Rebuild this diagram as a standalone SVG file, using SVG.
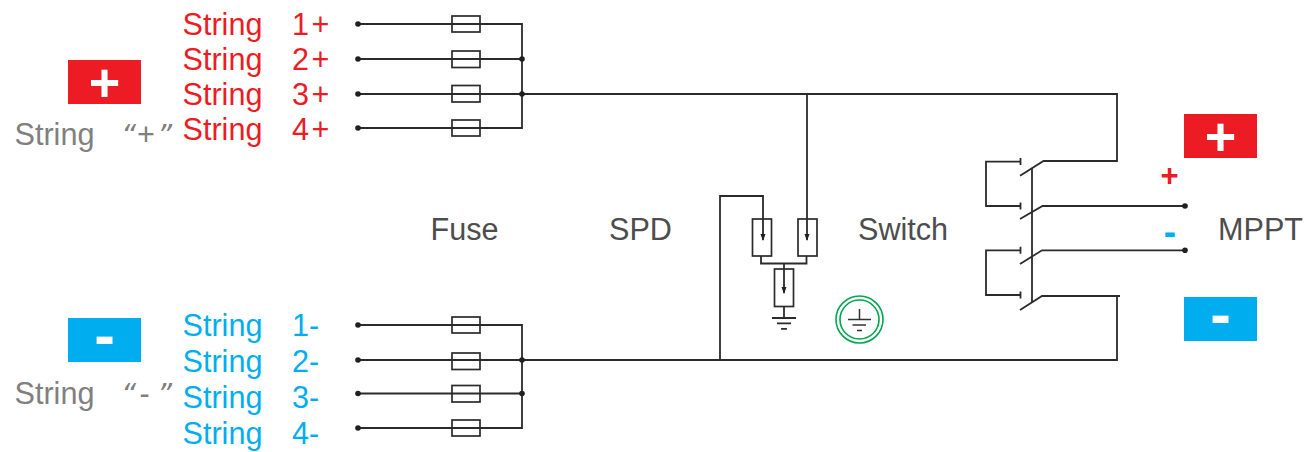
<svg xmlns="http://www.w3.org/2000/svg" width="1311" height="452" viewBox="0 0 1311 452">
<style>
text{font-family:"Liberation Sans",Arial,sans-serif;font-size:30.6px}
.r{fill:#ed1c24}.b{fill:#00aeef}.g{fill:#808080}.d{fill:#4d4d4d}
.w{fill:#fff;font-weight:bold;text-anchor:middle}
.rb{fill:#ed1c24}.bb{fill:#00aeef}
.l{fill:none;stroke:#2b2b2b;stroke-width:1.8}
.box{fill:none;stroke:#2b2b2b;stroke-width:1.7}
.dot{fill:#231f20}
.e{fill:none;stroke:#333;stroke-width:1.5}
.gr{fill:none;stroke:#00a651;stroke-width:1.6}
.q{font-family:"DejaVu Sans",sans-serif;font-size:29px;font-style:italic}
.ls{letter-spacing:2.500px}
</style>
<defs><marker id="a" markerWidth="7" markerHeight="6" refX="6" refY="3" orient="auto" markerUnits="userSpaceOnUse"><path d="M0 0.500L7 3L0 5.500Z" fill="#231f20"/></marker></defs>
<g id="connectors" class="l">
<path d="M358 24H522V128H358M358 59H522M358 94H1117V161H1043.500L1020 175.700"/>
<path d="M358 325H522V428H358M358 360H1117V296H1042L1020 310M1117 296H1120M358 393.500H522"/>
<path d="M720 360V196H763V240" marker-end="url(#a)"/>
<path d="M807 94V240" marker-end="url(#a)"/>
<path d="M761 256V263.500H806.500V256"/>
<path d="M784 263.500V293" marker-end="url(#a)"/>
<path d="M784 307V318"/>
<path d="M1020.500 158V165M1020.500 161.700H986V206H1020M1020.500 202.500V209.500"/>
<path d="M1020 219L1042.500 206H1185"/>
<path d="M1020.500 246.800V253.800M1020.500 250.300H986V295H1020M1020.500 291.500V298.500"/>
<path d="M1020 264L1042 250.300H1185"/>
<path d="M1032 168V302"/>
</g>
<g id="fuses">
<rect class="box" x="452" y="16" width="28" height="16"/><rect class="box" x="452" y="51" width="28" height="16.500"/>
<rect class="box" x="452" y="85.500" width="28" height="16.500"/><rect class="box" x="452" y="120" width="28" height="16"/>
<rect class="box" x="452" y="317" width="28" height="16"/><rect class="box" x="452" y="353" width="28" height="16.500"/>
<rect class="box" x="452" y="385.500" width="28" height="16.500"/><rect class="box" x="452" y="420" width="28" height="16"/>
</g>
<g id="dots" class="dot">
<circle cx="358" cy="24" r="2.800"/><circle cx="358" cy="59" r="2.800"/><circle cx="358" cy="94" r="2.800"/><circle cx="358" cy="128" r="2.800"/>
<circle cx="522" cy="59" r="2.800"/><circle cx="522" cy="94" r="2.800"/>
<circle cx="358" cy="325" r="2.800"/><circle cx="358" cy="360" r="2.800"/><circle cx="358" cy="393.500" r="2.800"/><circle cx="358" cy="428" r="2.800"/>
<circle cx="522" cy="360" r="2.800"/><circle cx="522" cy="393.500" r="2.800"/>
<circle cx="1185" cy="206" r="2.800"/><circle cx="1185" cy="250.300" r="2.800"/>
</g>
<g id="spd">
<rect class="box" x="752.500" y="219" width="19" height="37"/><rect class="box" x="798" y="219" width="19" height="37"/><rect class="box" x="774.500" y="269" width="19" height="37.500"/>
<path class="l" d="M772 318H796M777 323.300H791M781 328.800H787"/>
</g>
<g id="earth">
<circle class="gr" cx="859.500" cy="319.500" r="23.500"/><circle class="gr" cx="859.500" cy="319.500" r="19.500"/>
<path class="e" d="M859.500 309V319.500M848 319.500H871M852.500 325H866M857 330.500H862"/>
</g>
<g id="plus-left"><rect class="rb" x="68" y="60" width="73" height="44"/><text class="w" x="104.500" y="101" style="font-size:54px">+</text></g>
<g id="minus-left"><rect class="bb" x="68" y="318" width="73" height="44"/><text class="w" x="104.500" y="356" style="font-size:62px">-</text></g>
<g id="plus-right"><rect class="rb" x="1184" y="114" width="73" height="44"/><text class="w" x="1220.500" y="154.500" style="font-size:54px">+</text></g>
<g id="minus-right"><rect class="bb" x="1184" y="297" width="73" height="44"/><text class="w" x="1220.500" y="335" style="font-size:62px">-</text></g>
<g id="labels">
<text class="r" x="182.500" y="35">String<tspan x="292" class="ls">1+</tspan></text>
<text class="r" x="182.500" y="70">String<tspan x="292" class="ls">2+</tspan></text>
<text class="r" x="182.500" y="105">String<tspan x="292" class="ls">3+</tspan></text>
<text class="r" x="182.500" y="140">String<tspan x="292" class="ls">4+</tspan></text>
<text class="b" x="182.500" y="336">String<tspan x="292">1-</tspan></text>
<text class="b" x="182.500" y="372">String<tspan x="292">2-</tspan></text>
<text class="b" x="182.500" y="408">String<tspan x="292">3-</tspan></text>
<text class="b" x="182.500" y="444">String<tspan x="292">4-</tspan></text>
<text class="g" x="14.500" y="145">String<tspan x="121" class="q">“</tspan><tspan x="137">+</tspan><tspan x="157" class="q">”</tspan></text>
<text class="g" x="14.500" y="404">String<tspan x="121" class="q">“</tspan><tspan x="139.500">-</tspan><tspan x="157" class="q">”</tspan></text>
<text class="d" x="430.500" y="240">Fuse</text>
<text class="d" x="609" y="240">SPD</text>
<text class="d" x="858" y="240">Switch</text>
<text class="d" x="1218" y="240">MPPT</text>
<text class="r" x="1169.500" y="186" text-anchor="middle" style="font-weight:bold;font-size:31px">+</text>
<text class="b" x="1170" y="244" text-anchor="middle" style="font-weight:bold;font-size:37px">-</text>
</g>
</svg>
